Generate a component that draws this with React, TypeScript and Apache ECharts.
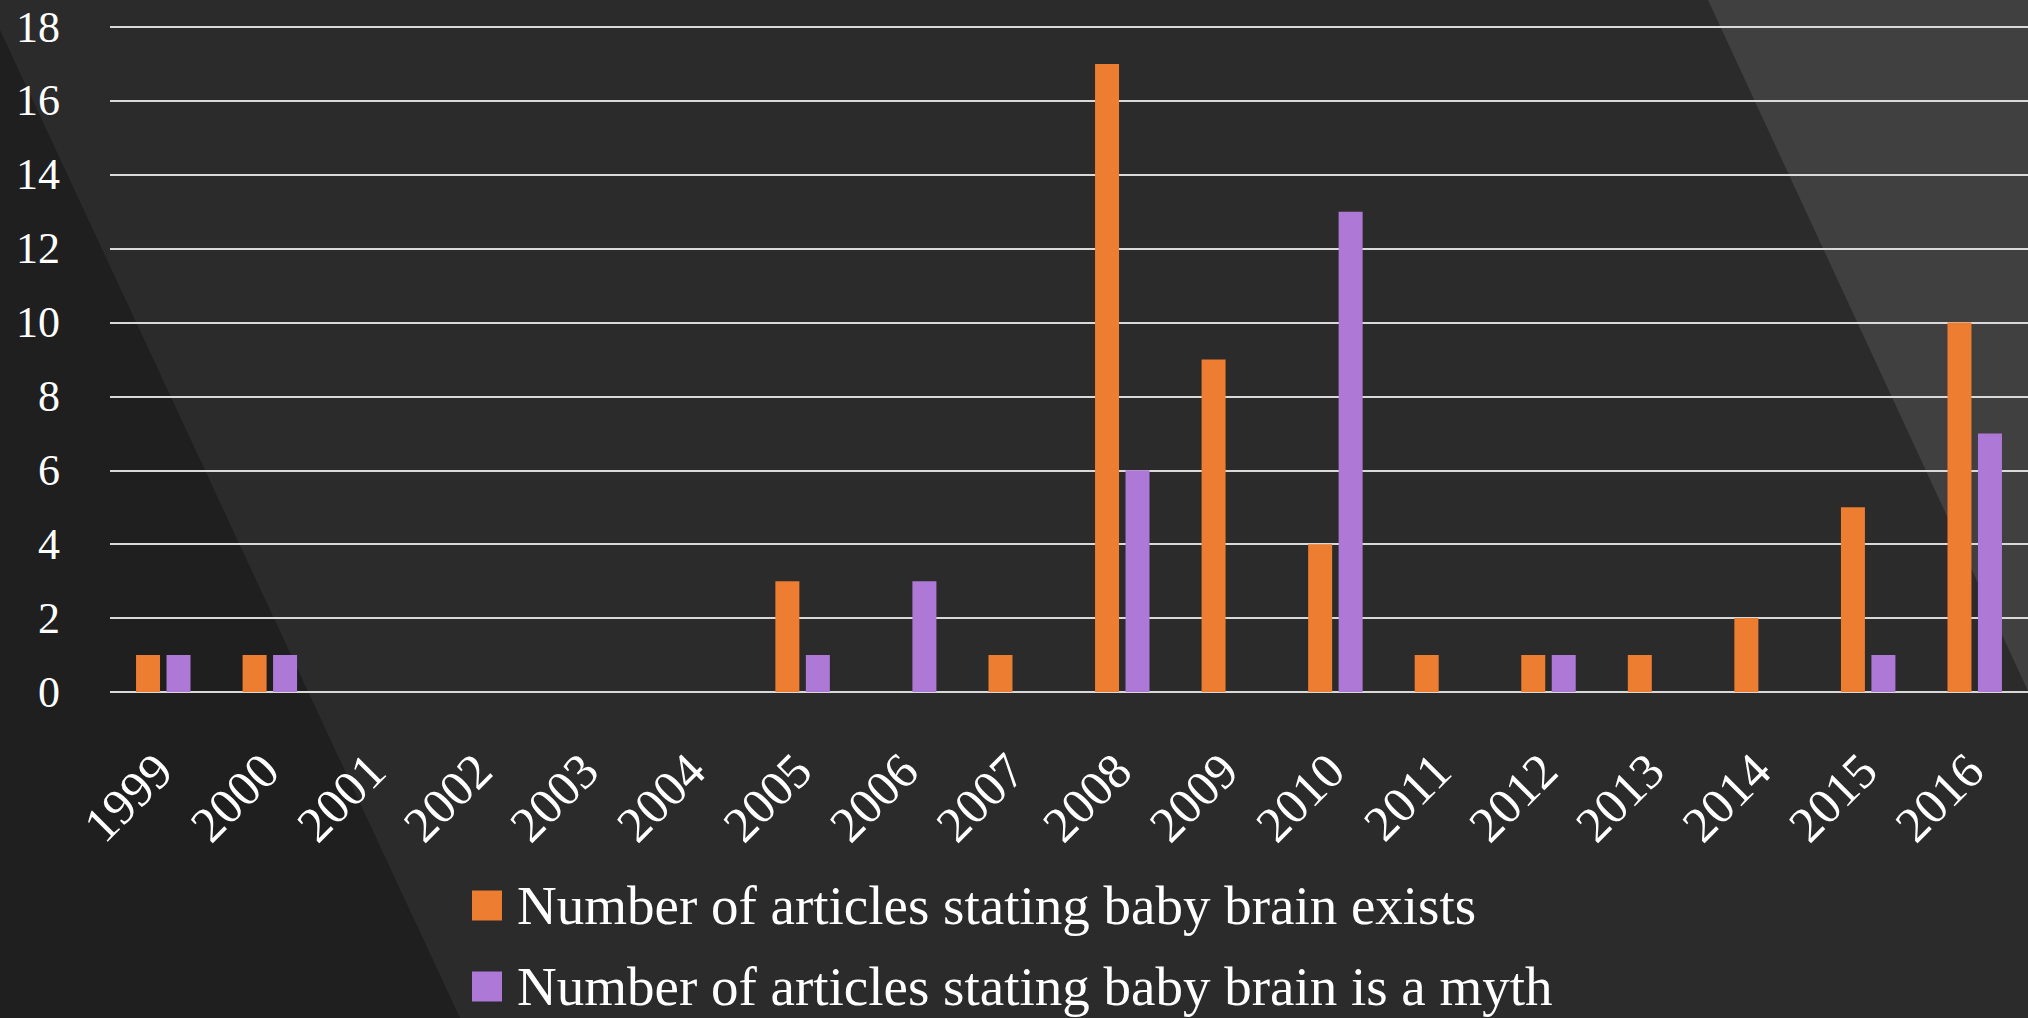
import React, { useEffect, useRef } from "react";
import * as echarts from "echarts";

const years = ["1999","2000","2001","2002","2003","2004","2005","2006","2007","2008","2009","2010","2011","2012","2013","2014","2015","2016"];
const existsValues = [1, 1, 0, 0, 0, 0, 3, 0, 1, 17, 9, 4, 1, 1, 1, 2, 5, 10];
const mythValues = [1, 1, 0, 0, 0, 0, 1, 3, 0, 6, 0, 13, 0, 1, 0, 0, 1, 7];
const seriesNames = [
  "Number of articles stating baby brain exists",
  "Number of articles stating baby brain is a myth",
];

const FONT = "'Liberation Serif', 'Times New Roman', serif";

const legendBase = {
  orient: "vertical",
  left: 472,
  padding: 0,
  itemWidth: 30,
  itemHeight: 30,
  icon: "rect",
  textStyle: {
    color: "#ffffff",
    fontFamily: FONT,
    fontSize: 55,
    lineHeight: 48,
    padding: [0, 0, 0, 10],
  },
};

export default function App() {
  const ref = useRef<HTMLDivElement>(null);
  useEffect(() => {
    if (!ref.current) return;
    const chart = echarts.init(ref.current, null, { renderer: "svg" });
    chart.setOption({
      animation: false,
      backgroundColor: "#2b2b2b",
      graphic: {
        z: -10,
        elements: [
          {
            type: "polygon",
            z: -10,
            shape: { points: [[0, 30], [460, 1018], [0, 1018]] },
            style: { fill: "#1f1f1f" },
          },
          {
            type: "polygon",
            z: -10,
            shape: { points: [[1708, 0], [2028, 0], [2028, 691]] },
            style: { fill: "#404040" },
          },
        ],
      },
      grid: { left: 110, top: 27, width: 1918, height: 665, containLabel: false },
      legend: [
        { ...legendBase, top: 878, data: [seriesNames[0]] },
        { ...legendBase, top: 959, data: [seriesNames[1]] },
      ],
      xAxis: {
        type: "category",
        data: years,
        axisLine: { show: false },
        axisTick: { show: false },
        axisLabel: {
          color: "#ffffff",
          fontFamily: FONT,
          fontSize: 50,
          rotate: 45,
          margin: 70,
          interval: 0,
        },
      },
      yAxis: {
        type: "value",
        min: 0,
        max: 18,
        interval: 2,
        axisLine: { show: false },
        axisTick: { show: false },
        axisLabel: {
          color: "#ffffff",
          fontFamily: FONT,
          fontSize: 44,
          margin: 50,
        },
        splitLine: { lineStyle: { color: "#d9d9d9", width: 2 } },
      },
      series: [
        {
          name: seriesNames[0],
          type: "bar",
          data: existsValues,
          barWidth: 24,
          barGap: "27%",
          itemStyle: { color: "#ed7d31" },
        },
        {
          name: seriesNames[1],
          type: "bar",
          data: mythValues,
          barWidth: 24,
          barGap: "27%",
          itemStyle: { color: "#ae78d6" },
        },
      ],
    });
    return () => chart.dispose();
  }, []);
  return (
    <div
      ref={ref}
      style={{ position: "fixed", left: 0, top: 0, width: 2028, height: 1018 }}
    />
  );
}
